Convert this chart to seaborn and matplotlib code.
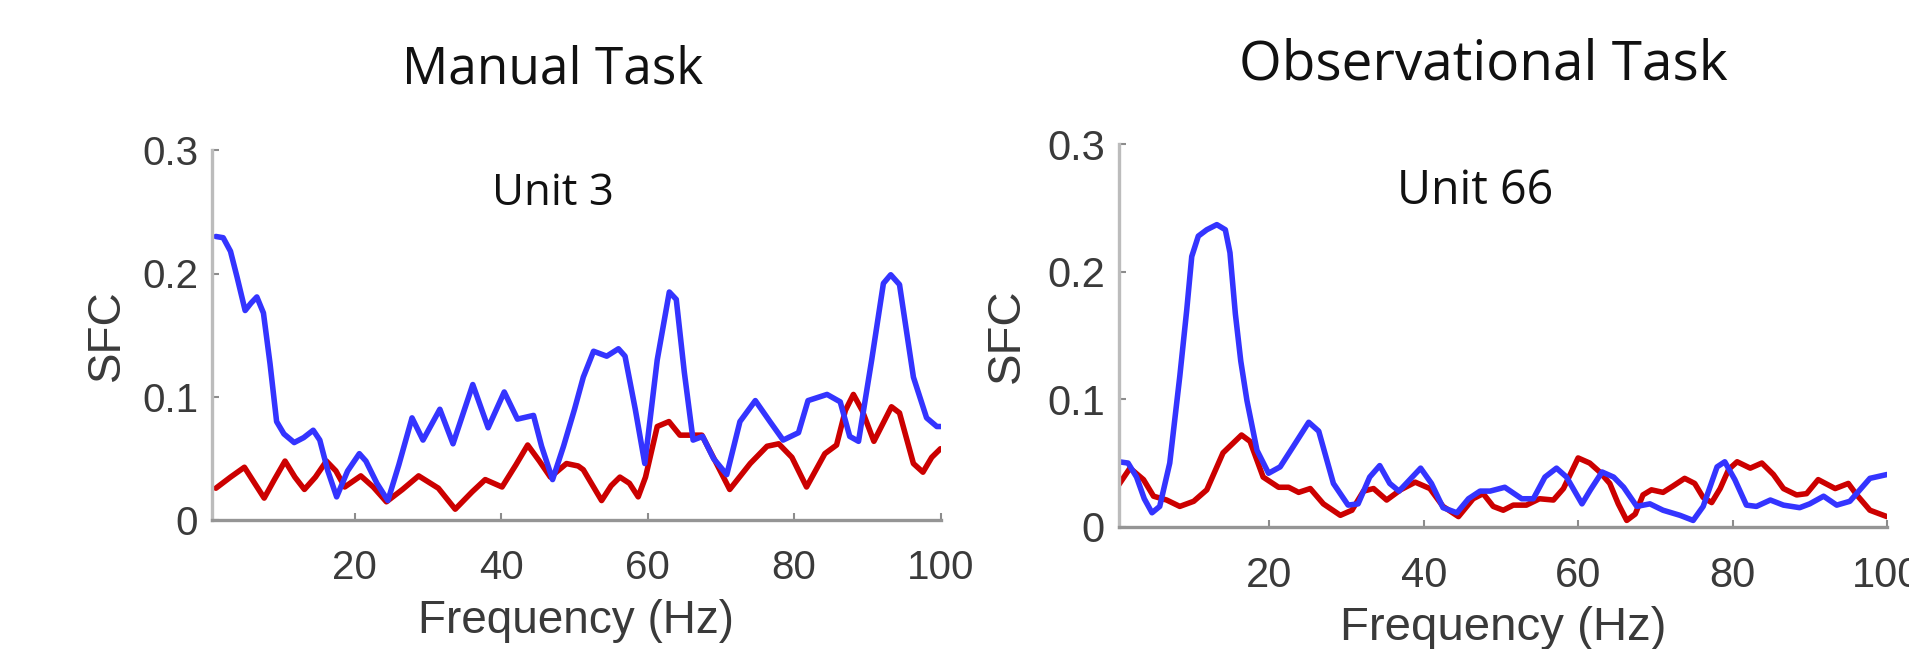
import matplotlib
matplotlib.use("Agg")
import matplotlib.pyplot as plt
import seaborn as sns
import pandas as pd

# ---------------- data ----------------
manual_blue_f = [1, 2, 3, 3.9, 5, 5.8, 6.6, 7.5, 8.4, 9.3, 10.3, 11.7, 13.0, 14.3, 15.2, 16.3,
                 17.5, 19.0, 20.6, 21.5, 23.0, 24.5, 26.0, 27.8, 29.3, 31.6, 33.4, 36.1, 38.2,
                 40.4, 42.2, 44.4, 45.5, 47.0, 48.5, 50.0, 51.2, 52.6, 54.4, 56.0, 56.9, 58.3,
                 59.6, 61.3, 62.95, 63.9, 65.0, 66.2, 67.5, 69.0, 70.8, 72.6, 74.7, 76.7, 78.5,
                 80.6, 81.9, 84.5, 86.3, 87.6, 88.8, 90.6, 92.2, 93.2, 94.4, 96.3, 98.1, 99.5, 100]
manual_blue_v = [0.230, 0.229, 0.218, 0.197, 0.170, 0.176, 0.181, 0.168, 0.127, 0.080, 0.070,
                 0.063, 0.067, 0.073, 0.065, 0.040, 0.019, 0.040, 0.054, 0.048, 0.030, 0.016,
                 0.045, 0.083, 0.065, 0.090, 0.062, 0.110, 0.075, 0.104, 0.082, 0.085, 0.060,
                 0.033, 0.060, 0.090, 0.116, 0.137, 0.133, 0.139, 0.133, 0.090, 0.046, 0.130,
                 0.185, 0.179, 0.120, 0.065, 0.068, 0.050, 0.037, 0.080, 0.097, 0.080, 0.065,
                 0.071, 0.097, 0.102, 0.096, 0.068, 0.064, 0.130, 0.192, 0.199, 0.191, 0.116,
                 0.083, 0.076, 0.076]

manual_red_f = [1, 3, 4.9, 6.3, 7.6, 9.0, 10.45, 11.8, 13.1, 14.6, 16.1, 17.4, 18.6, 20.8, 22.5,
                24.3, 26.5, 28.7, 31.4, 33.7, 36.0, 37.8, 40.1, 42.0, 43.6, 45.2, 46.7, 48.9,
                50.5, 51.2, 52.5, 53.7, 55.0, 56.2, 57.5, 58.7, 59.7, 61.3, 62.9, 64.4, 67.4,
                69.4, 71.2, 74.0, 76.3, 77.9, 79.7, 81.7, 84.2, 85.8, 87.0, 88.1, 89.3, 90.9,
                93.3, 94.4, 96.3, 97.6, 98.8, 100]
manual_red_v = [0.026, 0.035, 0.043, 0.030, 0.018, 0.033, 0.048, 0.035, 0.025, 0.035, 0.048,
                0.040, 0.027, 0.036, 0.027, 0.015, 0.025, 0.036, 0.026, 0.009, 0.023, 0.033,
                0.027, 0.045, 0.061, 0.048, 0.035, 0.046, 0.044, 0.041, 0.028, 0.016, 0.028,
                0.035, 0.030, 0.019, 0.035, 0.076, 0.080, 0.069, 0.069, 0.046, 0.025, 0.046,
                0.060, 0.062, 0.051, 0.027, 0.054, 0.061, 0.089, 0.102, 0.089, 0.064, 0.092,
                0.087, 0.046, 0.039, 0.051, 0.058]

obs_blue_f = [0.5, 1.7, 2.8, 3.8, 4.8, 5.8, 7.1, 8.4, 9.3, 9.95, 10.8, 11.9, 13.2, 14.3, 14.9,
              15.6, 16.3, 17.1, 18.4, 19.9, 21.4, 23.1, 25.1, 26.4, 28.3, 30.2, 31.5, 33.0,
              34.3, 35.6, 36.8, 38.2, 39.6, 41.0, 42.5, 44.3, 45.8, 47.3, 48.6, 50.5, 52.7,
              54.2, 55.7, 57.2, 58.5, 60.5, 61.6, 63.1, 64.6, 65.9, 67.6, 69.3, 71.0, 73.2,
              74.9, 76.2, 78.0, 79.0, 80.3, 81.8, 83.1, 84.9, 86.6, 88.7, 90.0, 91.8, 93.5,
              95.2, 96.5, 97.8, 100]
obs_blue_v = [0.051, 0.050, 0.039, 0.022, 0.011, 0.016, 0.050, 0.118, 0.170, 0.212, 0.228,
              0.233, 0.237, 0.233, 0.215, 0.167, 0.130, 0.099, 0.060, 0.042, 0.047, 0.063,
              0.082, 0.075, 0.034, 0.017, 0.018, 0.039, 0.048, 0.034, 0.028, 0.037, 0.046,
              0.034, 0.015, 0.011, 0.022, 0.028, 0.028, 0.031, 0.022, 0.022, 0.039, 0.046,
              0.039, 0.018, 0.029, 0.043, 0.039, 0.031, 0.016, 0.018, 0.013, 0.009, 0.005,
              0.016, 0.047, 0.051, 0.037, 0.017, 0.016, 0.021, 0.017, 0.015, 0.018, 0.024,
              0.017, 0.020, 0.029, 0.038, 0.041]

obs_red_f = [0.5, 1.95, 3.7, 5.0, 6.7, 8.4, 10.2, 11.9, 14.0, 16.4, 17.5, 19.2, 21.2, 22.5,
             23.8, 25.3, 27.0, 29.2, 30.7, 32.2, 33.5, 35.2, 37.0, 38.9, 40.8, 42.5, 44.5,
             46.4, 47.7, 49.0, 50.3, 51.6, 53.3, 55.0, 56.8, 58.1, 60.0, 61.5, 62.8, 64.1,
             65.2, 66.3, 67.4, 68.4, 69.5, 71.0, 72.3, 73.8, 75.1, 76.2, 77.3, 78.4, 79.5,
             80.6, 82.3, 83.8, 85.3, 86.6, 88.3, 89.6, 91.1, 93.3, 95.0, 96.1, 97.8, 100]
obs_red_v = [0.033, 0.046, 0.037, 0.024, 0.021, 0.016, 0.020, 0.029, 0.058, 0.072, 0.067,
             0.039, 0.031, 0.031, 0.027, 0.030, 0.018, 0.009, 0.013, 0.028, 0.030, 0.021,
             0.029, 0.035, 0.030, 0.016, 0.008, 0.022, 0.026, 0.016, 0.013, 0.017, 0.017,
             0.022, 0.021, 0.030, 0.054, 0.050, 0.043, 0.034, 0.018, 0.005, 0.010, 0.025,
             0.029, 0.027, 0.032, 0.038, 0.034, 0.023, 0.019, 0.030, 0.045, 0.051, 0.046,
             0.050, 0.041, 0.030, 0.025, 0.026, 0.037, 0.030, 0.034, 0.025, 0.013, 0.008]

panel_titles = ["Manual Task", "Observational Task"]
unit_labels = ["Unit 3", "Unit 66"]
x_ticks = [20, 40, 60, 80, 100]
y_ticks = [0, 0.1, 0.2, 0.3]
y_ticklabels = ["0", "0.1", "0.2", "0.3"]

BLUE = "#3434ff"
RED = "#cc0000"

def make_df(bf, bv, rf, rv):
    return pd.concat([
        pd.DataFrame({"freq": bf, "sfc": bv, "cond": "blue"}),
        pd.DataFrame({"freq": rf, "sfc": rv, "cond": "red"}),
    ], ignore_index=True)

dfs = [make_df(manual_blue_f, manual_blue_v, manual_red_f, manual_red_v),
       make_df(obs_blue_f, obs_blue_v, obs_red_f, obs_red_v)]

# ---------------- figure ----------------
W, H = 1909, 649
sns.set_style("ticks")
plt.rcParams["font.family"] = ["Liberation Sans", "DejaVu Sans"]

fig = plt.figure(figsize=(W / 100, H / 100), dpi=100)

# axes boxes in pixels: left, right, top, bottom
boxes = [(212.2, 940.5, 150.1, 520.3), (1118.8, 1886.9, 144.3, 526.8)]
scales = [1.0, 1.033]
title_pos = [(553, 83.3, 37), (1483, 80, 39.5)]
unit_pos = [(47.0, 0.2555, 31.5), (46.6, 0.2532, 33.5)]

for i, (df, box, s) in enumerate(zip(dfs, boxes, scales)):
    l, r, t, b = box
    ax = fig.add_axes([l / W, (H - b) / H, (r - l) / W, (b - t) / H])
    sns.lineplot(data=df, x="freq", y="sfc", hue="cond", palette={"blue": BLUE, "red": RED},
                 hue_order=["red", "blue"], estimator=None, sort=False, linewidth=4.0,
                 legend=False, ax=ax)
    for ln in ax.lines:
        ln.set_solid_joinstyle("round")
        ln.set_solid_capstyle("round")
    ax.set_xlim(0.5, 100)
    ax.set_ylim(0, 0.3)
    ax.set_xticks(x_ticks)
    ax.set_xticklabels([str(v) for v in x_ticks])
    ax.set_yticks(y_ticks)
    ax.set_yticklabels(y_ticklabels)
    for sp in ["top", "right"]:
        ax.spines[sp].set_visible(False)
    ax.spines["left"].set_color("#bcbcbc")
    ax.spines["left"].set_linewidth(2.4)
    ax.spines["bottom"].set_color("#959595")
    ax.spines["bottom"].set_linewidth(2.4)
    ax.tick_params(axis="both", direction="in", length=5, width=1.5, colors="#8c8c8c",
                   labelcolor="#3a3a3a", labelsize=29 * s)
    ax.tick_params(axis="y", pad=10)
    ax.tick_params(axis="x", pad=21)
    ax.set_xlabel("Frequency (Hz)", fontsize=33 * s, color="#3a3a3a")
    ax.set_ylabel("SFC", fontsize=33 * s, color="#3a3a3a")
    ax.xaxis.set_label_coords(0.5, (b - (633 + (6.5 if i else 0))) / (b - t))
    ax.xaxis.label.set_va("baseline")
    ax.yaxis.set_label_coords((106.7 - l if i == 0 else 1006.8 - l) / (r - l), 0.5)
    ax.yaxis.label.set_va("center")
    ax.patch.set_alpha(0)
    ux, uy, us = unit_pos[i]
    ax.text(ux, uy, unit_labels[i], ha="center", va="baseline", fontsize=us,
            family=["Open Sans", "DejaVu Sans"], color="#111111")
    tx, ty, ts = title_pos[i]
    fig.text(tx / W, (H - ty) / H, panel_titles[i], ha="center", va="baseline", fontsize=ts,
             family=["Open Sans", "DejaVu Sans"], color="#111111")

fig.savefig("out.png", dpi=100, facecolor="white")
